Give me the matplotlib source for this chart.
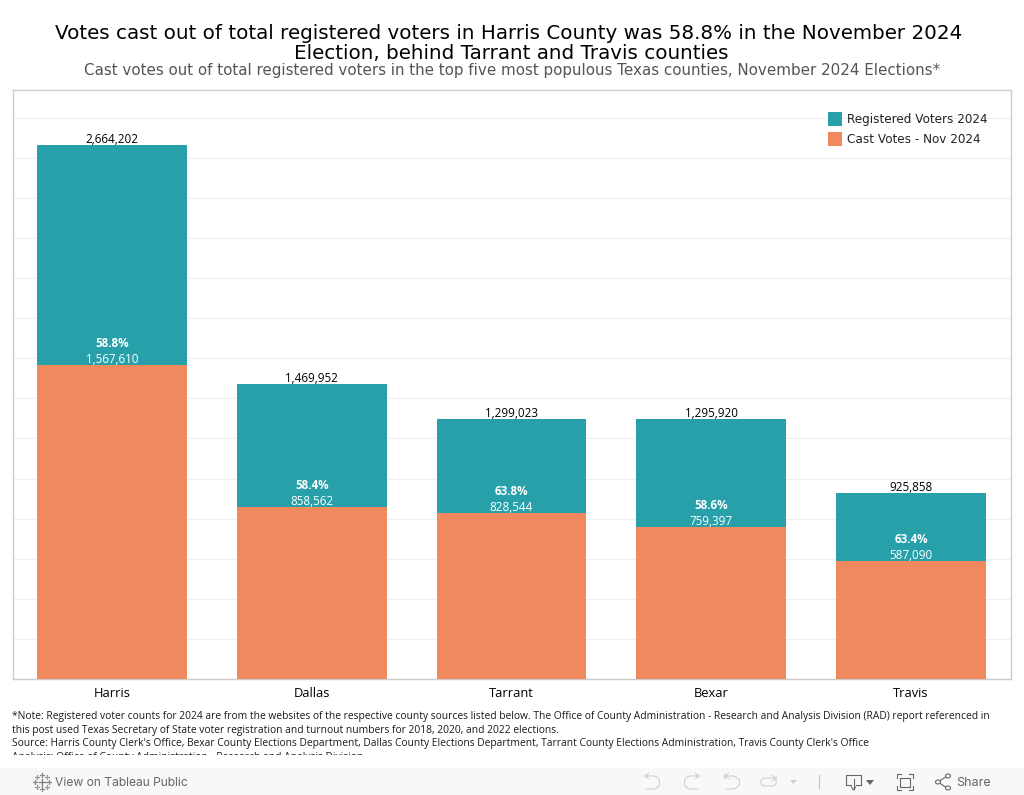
import numpy as np
import matplotlib
matplotlib.use("Agg")
import matplotlib.pyplot as plt
from matplotlib.patches import Rectangle, Circle, Polygon
from matplotlib.lines import Line2D
from matplotlib.transforms import Bbox

counties = ["Harris", "Dallas", "Tarrant", "Bexar", "Travis"]
registered = [2664202, 1469952, 1299023, 1295920, 925858]
cast = [1567610, 858562, 828544, 759397, 587090]
pct = ["58.8%", "58.4%", "63.8%", "58.6%", "63.4%"]

title = ("Votes cast out of total registered voters in Harris County was 58.8% in the November 2024\n"
         "Election, behind Tarrant and Travis counties")
subtitle = "Cast votes out of total registered voters in the top five most populous Texas counties, November 2024 Elections*"
notes = [
    "*Note: Registered voter counts for 2024 are from the websites of the respective county sources listed below. The Office of County Administration - Research and Analysis Division (RAD) report referenced in",
    "this post used Texas Secretary of State voter registration and turnout numbers for 2018, 2020, and 2022 elections.",
    "Source: Harris County Clerk's Office, Bexar County Elections Department, Dallas County Elections Department, Tarrant County Elections Administration, Travis County Clerk's Office",
    "Analysis: Office of County Administration - Research and Analysis Division",
]

TEAL = "#27a0a9"
ORANGE = "#f0895d"
W, H = 1024, 795


def fx(x):
    return x / W


def fy(y):
    return 1 - y / H


fig = plt.figure(figsize=(W / 100, H / 100), dpi=100)
ax = fig.add_axes([fx(12.5), fy(679), (1011 - 12.5) / W, (679 - 90) / H])

x = np.arange(len(counties))
ax.bar(x, registered, width=0.75, color=TEAL, zorder=2)
ax.bar(x, cast, width=0.75, color=ORANGE, zorder=3)

for i in x:
    ax.annotate(f"{registered[i]:,}", (i, registered[i]), xytext=(0, -0.7), textcoords="offset points",
                ha="center", va="bottom", fontsize=8.4, family="Open Sans", color="black", zorder=4)
    ax.annotate(f"{cast[i]:,}", (i, cast[i]), xytext=(0, -0.7), textcoords="offset points",
                ha="center", va="bottom", fontsize=8.4, family="Open Sans", color="white", zorder=4)
    ax.annotate(pct[i], (i, cast[i]), xytext=(0, 10.8), textcoords="offset points",
                ha="center", va="bottom", fontsize=8.4, family="Open Sans", weight="bold",
                color="white", zorder=4)

ax.set_xlim(-0.498, 4.5)
ax.set_ylim(0, 2938000)
ax.set_yticks(np.arange(0, 2800001, 200000))
ax.set_xticks(x)
ax.set_xticklabels(counties, family="Open Sans", fontsize=9.3)
ax.tick_params(axis="x", length=0, pad=5.7)
ax.tick_params(axis="y", length=0, labelleft=False)
ax.grid(axis="y", color="#efefef", linewidth=0.8, zorder=0)
ax.set_axisbelow(True)
for s in ax.spines.values():
    s.set_color("#cccccc")
    s.set_linewidth(1)

# legend
legend_items = [("Registered Voters 2024", TEAL, 112), ("Cast Votes - Nov 2024", ORANGE, 132)]
for label, col, top in legend_items:
    fig.add_artist(Rectangle((fx(828), fy(top + 14)), 14 / W, 14 / H, transform=fig.transFigure,
                             facecolor=col, edgecolor="none", zorder=5))
    fig.text(fx(847), fy(top + 7.5), label, fontsize=8.63, color="#222222", va="center", zorder=5)

fig.text(fx(508.5), fy(33.5), title.split("\n")[0], fontsize=14.28, ha="center", va="center", color="black")
fig.text(fx(511.5), fy(53.5), title.split("\n")[1], fontsize=14.28, ha="center", va="center", color="black")
fig.text(fx(512), fy(70), subtitle, fontsize=10.93, ha="center", va="center", color="#555555")

# footnote, last line is cut off in the original
ys = [716, 730, 743.5, 757.5]
for line, y in zip(notes, ys):
    t = fig.text(fx(12), fy(y), line, fontsize=7.42, family="Open Sans", va="center", color="#1a1a1a")
    t.set_clip_box(Bbox([[0, H - 755], [W, H]]))
    t.set_clip_on(True)

# toolbar
fig.add_artist(Rectangle((0, 0), 1, 27 / H, transform=fig.transFigure, facecolor="#f8f8f8",
                         edgecolor="none", zorder=1))
fig.text(fx(55), fy(782.5), "View on Tableau Public", fontsize=8.7, family="Inter", color="#666666",
         va="center", zorder=3)
fig.text(fx(956), fy(782.5), "Share", fontsize=9, family="Inter", color="#666666", va="center", zorder=3)


def seg(xs, ys, col="#666666", lw=0.8):
    fig.add_artist(Line2D([fx(a) for a in xs], [fy(b) for b in ys], transform=fig.transFigure,
                          color=col, linewidth=lw, zorder=3))


def plus(cx, cy, r, col):
    seg([cx - r, cx + r], [cy, cy], col, 0.9)
    seg([cx, cx], [cy - r, cy + r], col, 0.9)


# tableau mark
plus(42, 782, 3.5, "#777777")
for px, py in [(42, 775), (42, 789), (35, 782), (49, 782)]:
    plus(px, py, 2, "#888888")
for px, py in [(37, 777), (47, 777), (37, 787), (47, 787)]:
    plus(px, py, 2, "#999999")

# undo/redo/revert/refresh, greyed out
light = "#cfcfcf"
seg([645, 654, 657, 659.5, 659.5, 657, 654, 646], [776, 776, 777, 780, 785, 788, 789, 789], light)
seg([645, 648.5], [776, 773.5], light)
seg([645, 648.5], [776, 778.5], light)
seg([699, 690, 687, 684.5, 684.5, 687, 690, 698], [776, 776, 777, 780, 785, 788, 789, 789], light)
seg([699, 695.5], [776, 773.5], light)
seg([699, 695.5], [776, 778.5], light)
seg([725, 733, 736, 739.5, 739.5, 736, 733, 726], [776, 776, 777, 780, 785, 788, 789, 789], light)
seg([725, 728.5], [776, 773.5], light)
seg([725, 728.5], [776, 778.5], light)
seg([724, 724], [774, 778], light)
seg([776, 764, 761, 761, 764, 773, 776, 776], [778, 778, 780, 784, 786, 786, 784, 778], light)
seg([776, 772.5], [778, 775.5], light)
seg([776, 772.5], [778, 780.5], light)
fig.add_artist(Polygon([(fx(790), fy(780)), (fx(797), fy(780)), (fx(793.5), fy(784))], closed=True,
                       transform=fig.transFigure, facecolor=light, edgecolor="none", zorder=3))
seg([819, 819], [775, 788], "#c4c4c4")

# download
seg([851, 846, 846, 861, 861, 856], [785, 785, 775, 775, 785, 785])
seg([853.5, 853.5], [779, 789])
seg([851.5, 853.5, 855.5], [787, 790, 787])
fig.add_artist(Polygon([(fx(866), fy(780)), (fx(874), fy(780)), (fx(870), fy(785))], closed=True,
                       transform=fig.transFigure, facecolor="#666666", edgecolor="none", zorder=3))

# fullscreen
seg([900, 910, 910, 900, 900], [777.5, 777.5, 786.5, 786.5, 777.5])
seg([897, 897, 901], [778, 774, 774])
seg([909, 913, 913], [774, 774, 778])
seg([897, 897, 901], [786, 790, 790])
seg([909, 913, 913], [790, 790, 786])

# share
seg([947, 938, 947], [776, 782, 788])
for cx, cy in [(948, 776), (938, 782), (948, 788)]:
    fig.add_artist(Circle((fx(cx), fy(cy)), 2.5 / W, transform=fig.transFigure, facecolor="#f8f8f8",
                          edgecolor="#666666", linewidth=0.8, zorder=4))

fig.savefig("out.png", dpi=100)
